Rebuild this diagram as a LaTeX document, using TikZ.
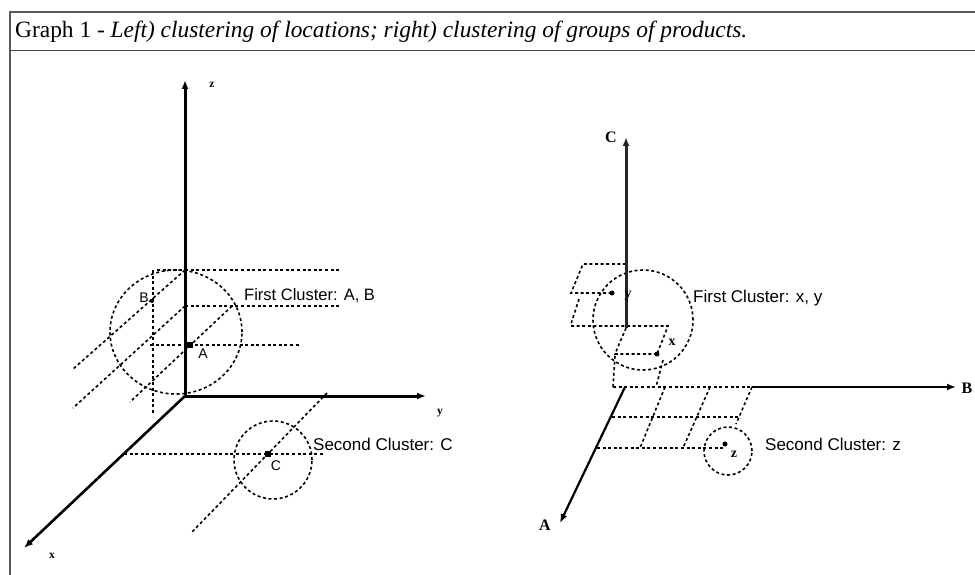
\documentclass[tikz,border=0pt]{standalone}
\usepackage{fontspec}
\setmainfont{Liberation Serif}
\setsansfont{Liberation Sans}
\usetikzlibrary{arrows.meta}
\begin{document}
\begin{tikzpicture}[x=1pt,y=-1pt,
  dsh/.style={line width=1.6pt, dash pattern=on 3pt off 2.6pt},
  laxis/.style={line width=3pt, -{Latex[length=9pt,width=7pt]}},
  raxis/.style={line width=2.2pt, -{Latex[length=9pt,width=7pt]}},
  clbl/.style={font=\sffamily\fontsize{17}{17}\selectfont, anchor=base west, inner sep=0pt},
  plbl/.style={font=\sffamily\fontsize{14}{14}\selectfont, inner sep=0pt},
  albl/.style={font=\bfseries\fontsize{11.5}{11.5}\selectfont, inner sep=0pt},
  rlbl/.style={font=\bfseries\fontsize{16}{16}\selectfont, inner sep=0pt},
  sq/.style={fill=black, minimum size=5.5pt, inner sep=0pt},
  dot/.style={circle, fill=black, minimum size=5pt, inner sep=0pt}]
\useasboundingbox (0,0) rectangle (975,575);
% frame
\draw[black!65, line width=1.8pt] (10,575) -- (10,12) -- (975,12);
\draw[black!70, line width=1pt] (10,51) -- (975,51);
\node[anchor=base west, inner sep=0pt, font=\fontsize{23.4}{23.4}\selectfont] (cap) at (15,38)
  {Graph 1 - \textit{Left) clustering of locations; right) clustering of groups of products.}};

% ---------------- left panel ----------------
\coordinate (O) at (185,396);
\coordinate (Zt) at (185,80);
\coordinate (Yt) at (426,396);
\coordinate (Xt) at (24,548);
% dashed projections
\draw[dsh] (157,270) -- (340,270);
\draw[dsh] (185,306) -- (340,306);
\draw[dsh] (150,345) -- (300,345);
\draw[dsh] (153,270) -- (153,415);
\draw[dsh] (185,270) -- (72,370);
\draw[dsh] (185,306) -- (73,408);
\draw[dsh] (232,306) -- (130,402);
\draw[dsh] (176,332) ellipse [x radius=66pt, y radius=62pt];
\draw[dsh] (327,393) -- (192,532);
\draw[dsh] (124,454) -- (325,454);
\draw[dsh] (273,460) circle [radius=39pt];
% axes
\draw[laxis] (O) -- (Zt);
\draw[laxis] (O) -- (Yt);
\draw[line width=2.6pt, -{Latex[length=9pt,width=7pt]}] (O) -- (Xt);
\node[albl] (zl) at (212,85) {z};
\node[albl] (yl) at (440,413) {y};
\node[albl] (xl) at (52,556) {x};
% points
\node[sq] (pA) at (190,345) {};
\node[plbl] (lA) at (203,354) {A};
\node[dot, minimum size=4pt] (pB) at (152,301) {};
\node[plbl] (lB) at (144,298) {B};
\node[sq] (pC) at (268,454) {};
\node[plbl] (lC) at (276,466) {C};
\node[clbl, font=\sffamily\fontsize{16.5}{16.5}\selectfont] (t1) at (244,300) {First Cluster: A, B};
\node[clbl] (t2) at (313,450) {Second Cluster: C};

% ---------------- right panel ----------------
\coordinate (RO) at (625,387);
\coordinate (Cb) at (626,328);
\coordinate (Ct) at (626,137);
\coordinate (Bs) at (752,387);
\coordinate (Bt) at (956,387);
\coordinate (At) at (560,523);
% floor grid
\draw[dsh] (613,387) -- (Bs);
\draw[dsh] (612,417) -- (738,417);
\draw[dsh] (597,448) -- (724,448);
\draw[dsh] (665,387) -- (640,448);
\draw[dsh] (710,387) -- (683,448);
\draw[dsh] (752,387) -- (736,424);
\draw[dsh] (728,451) circle [radius=24pt];
% upper cluster projections
\draw[dsh] (626,264) -- (583,264) -- (571,293) -- (612,293);
\draw[dsh] (579,299) -- (571,324);
\draw[dsh] (571,326) -- (668,326) -- (657,354);
\draw[dsh] (626,328) -- (615,354) -- (657,354);
\draw[dsh] (615,356) -- (613,387);
\draw[dsh] (663,360) -- (656,387);
\draw[dsh] (643,320) circle [radius=50pt];
% axes
\draw[line width=3pt, black!85, -{Latex[length=9pt,width=7pt]}] (Cb) -- (Ct);
\draw[raxis] (Bs) -- (Bt);
\draw[raxis] (RO) -- (At);
\node[rlbl] (lCr) at (611,137) {C};
\node[rlbl] (lBr) at (967,388) {B};
\node[rlbl] (lAr) at (545,525) {A};
% points
\node[dot] (px) at (657,354) {};
\node[rlbl, font=\bfseries\fontsize{14}{14}\selectfont] (lx) at (672,342) {x};
\node[dot] (py) at (612,293) {};
\node[rlbl, font=\bfseries\fontsize{14}{14}\selectfont] (ly) at (628,296) {y};
\node[dot] (pz) at (725,444) {};
\node[rlbl, font=\bfseries\fontsize{14}{14}\selectfont] (lz) at (734,454) {z};
\node[clbl] (t3) at (693,302) {First Cluster: x, y};
\node[clbl] (t4) at (765,450) {Second Cluster: z};
\end{tikzpicture}
\end{document}
